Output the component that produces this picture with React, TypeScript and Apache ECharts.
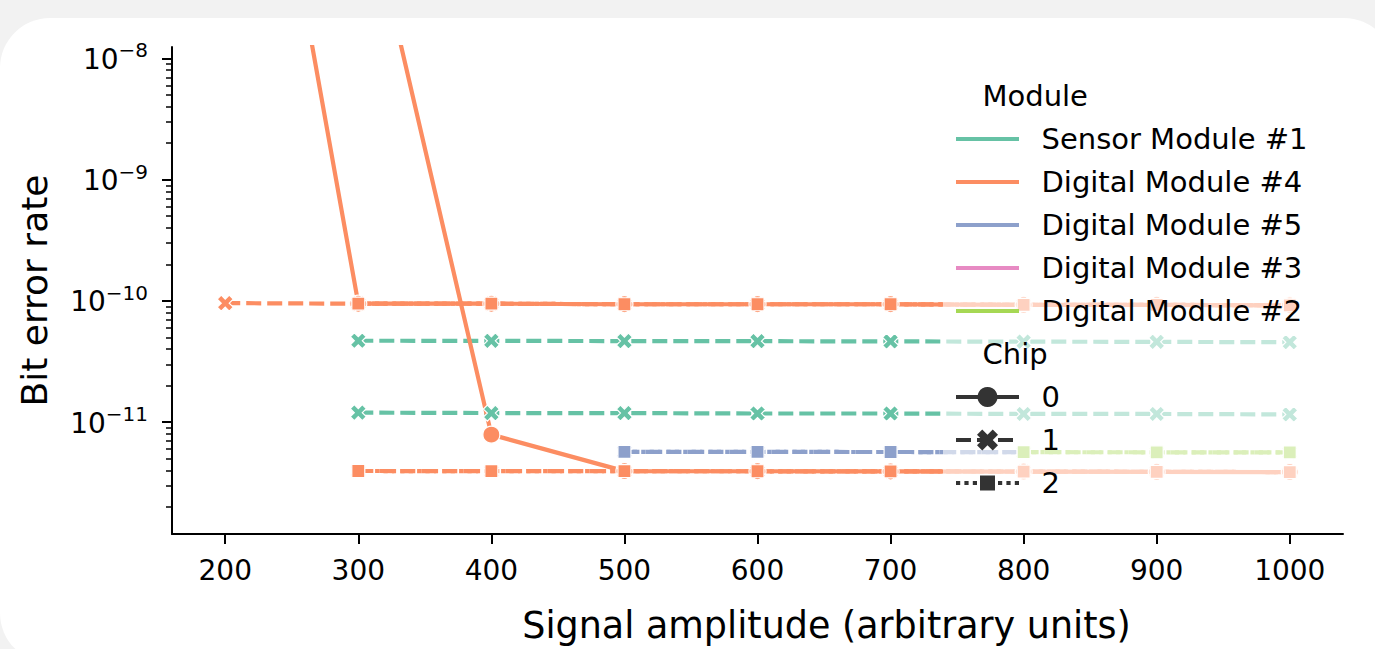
import React, { useEffect, useRef } from 'react';
import * as echarts from 'echarts';

const FONT = '"DejaVu Sans", "Liberation Sans", sans-serif';

// ---------- axis ticks ----------
const amplitudeTicks = [200, 300, 400, 500, 600, 700, 800, 900, 1000];
const decadeTicks = [1e-11, 1e-10, 1e-9, 1e-8];
const minorMultipliers = [2, 3, 4, 5, 6, 7, 8, 9];
const minorDecades = [1e-12, 1e-11, 1e-10, 1e-9, 1e-8];

// ---------- categories ----------
const moduleNames = ['Sensor Module #1', 'Digital Module #4', 'Digital Module #5', 'Digital Module #3', 'Digital Module #2'];
const moduleColors = ['#66c2a5', '#fc8d62', '#8da0cb', '#e78ac3', '#a6d854'];
const chipNames = ['0', '1', '2'];

// ---------- x values ----------
const xFrom200 = [200, 300, 400, 500, 600, 700, 800, 900, 1000];
const xFrom300 = [300, 400, 500, 600, 700, 800, 900, 1000];
const xFrom500 = [500, 600, 700, 800];
const xFrom800 = [800, 900, 1000];

// ---------- bit error rates ----------
const sensor1Chip1RunA = [4.70e-11, 4.69e-11, 4.67e-11, 4.66e-11, 4.64e-11, 4.62e-11, 4.60e-11, 4.57e-11];
const sensor1Chip1RunB = [1.20e-11, 1.19e-11, 1.19e-11, 1.18e-11, 1.18e-11, 1.17e-11, 1.17e-11, 1.16e-11];
const digital4Chip0RunA = [1.3e-4, 9.5e-11, 9.5e-11, 9.4e-11, 9.4e-11, 9.4e-11, 9.3e-11, 9.3e-11, 9.2e-11];
const digital4Chip0RunB = [4.2e-7, 7.9e-12, 3.95e-12, 3.94e-12, 3.93e-12, 3.92e-12, 3.90e-12, 3.88e-12];
const digital4Chip1RunA = [9.6e-11, 9.5e-11, 9.5e-11, 9.4e-11, 9.4e-11, 9.4e-11, 9.3e-11, 9.3e-11, 9.2e-11];
const digital4Chip1RunB = [3.96e-12, 3.95e-12, 3.95e-12, 3.94e-12, 3.93e-12, 3.92e-12, 3.90e-12, 3.88e-12];
const digital4Chip2RunA = [9.5e-11, 9.5e-11, 9.4e-11, 9.4e-11, 9.4e-11, 9.3e-11, 9.3e-11, 9.2e-11];
const digital4Chip2RunB = [3.96e-12, 3.95e-12, 3.95e-12, 3.94e-12, 3.93e-12, 3.92e-12, 3.90e-12, 3.88e-12];
const digital5Chip1 = [5.70e-12, 5.69e-12, 5.68e-12, 5.67e-12];
const digital5Chip2 = [5.70e-12, 5.69e-12, 5.68e-12, 5.67e-12];
const digital2Chip1 = [5.66e-12, 5.65e-12, 5.64e-12];
const digital2Chip2 = [5.66e-12, 5.65e-12, 5.64e-12];

type Line = { module: number; chip: number; x: number[]; y: number[] };
const lines: Line[] = [
  { module: 0, chip: 1, x: xFrom300, y: sensor1Chip1RunA },
  { module: 0, chip: 1, x: xFrom300, y: sensor1Chip1RunB },
  { module: 1, chip: 0, x: xFrom200, y: digital4Chip0RunA },
  { module: 1, chip: 0, x: xFrom300, y: digital4Chip0RunB },
  { module: 1, chip: 1, x: xFrom200, y: digital4Chip1RunA },
  { module: 1, chip: 1, x: xFrom300, y: digital4Chip1RunB },
  { module: 1, chip: 2, x: xFrom300, y: digital4Chip2RunA },
  { module: 1, chip: 2, x: xFrom300, y: digital4Chip2RunB },
  { module: 2, chip: 1, x: xFrom500, y: digital5Chip1 },
  { module: 2, chip: 2, x: xFrom500, y: digital5Chip2 },
  { module: 4, chip: 1, x: xFrom800, y: digital2Chip1 },
  { module: 4, chip: 2, x: xFrom800, y: digital2Chip2 },
];

const X_PATH = 'path://M75,0L100,25L75,50L100,75L75,100L50,75L25,100L0,75L25,50L0,25L25,0L50,25Z';
const X_POINTS = [[75, 0], [100, 25], [75, 50], [100, 75], [75, 100], [50, 75], [25, 100], [0, 75], [25, 50], [0, 25], [25, 0], [50, 25]];
const chipSymbol = ['circle', X_PATH, 'rect'];
const chipSymbolSize = [17, 16, 13];
const chipDash: any[] = ['solid', [15, 6], [4.2, 4.2]];

const LINE_W = 4.2;

function buildLegend(): any[] {
  const els: any[] = [];
  const hx1 = 956, hx2 = 1019, hc = (hx1 + hx2) / 2;
  const tx = 1041.5, titleX = 982.5;
  const step = 43, top = 96;
  const textStyle = (t: string, x: number, y: number) => ({
    type: 'text', x, y, z: 101,
    style: { text: t, fontSize: 29, fontFamily: FONT, fill: '#000', align: 'left', verticalAlign: 'middle' },
  });
  els.push({ type: 'rect', z: 100, shape: { x: 943, y: 68, width: 378, height: 442, r: 6 }, style: { fill: 'rgba(255,255,255,0.6)' } });
  els.push(textStyle('Module', titleX, top));
  moduleNames.forEach((m, i) => {
    const y = top + step * (i + 1);
    els.push({ type: 'line', z: 101, shape: { x1: hx1, y1: y, x2: hx2, y2: y }, style: { stroke: moduleColors[i], lineWidth: LINE_W } });
    els.push(textStyle(m, tx, y));
  });
  const chipTop = top + step * 6;
  els.push(textStyle('Chip', titleX, chipTop));
  const dark = '#333333';
  chipNames.forEach((c, i) => {
    const y = chipTop + step * (i + 1);
    const dash = chipDash[i] === 'solid' ? null : chipDash[i];
    els.push({ type: 'line', z: 101, shape: { x1: hx1, y1: y, x2: hx2, y2: y }, style: { stroke: dark, lineWidth: LINE_W, lineDash: dash } });
    if (i === 0) {
      els.push({ type: 'circle', z: 102, shape: { cx: hc, cy: y, r: 10 }, style: { fill: dark } });
    } else if (i === 1) {
      const s = 21;
      const pts = X_POINTS.map(([px, py]) => [hc - s / 2 + (px / 100) * s, y - s / 2 + (py / 100) * s]);
      els.push({ type: 'polygon', z: 102, shape: { points: pts }, style: { fill: dark } });
    } else {
      els.push({ type: 'rect', z: 102, shape: { x: hc - 7.5, y: y - 7.5, width: 15, height: 15 }, style: { fill: dark } });
    }
    els.push(textStyle(c, tx, y));
  });
  return els;
}

export default function App() {
  const ref = useRef<HTMLDivElement>(null);
  useEffect(() => {
    if (!ref.current) return;
    const chart = echarts.init(ref.current, undefined, { renderer: 'svg' });
    const minorTicks: number[] = [];
    minorDecades.forEach((d) => minorMultipliers.forEach((k) => minorTicks.push(k * d)));
    const yMin = 1.197e-12;
    const yMax = 1.244e-8;
    const axisBlack = { color: '#000', width: 2 };
    const option: any = {
      animation: false,
      backgroundColor: 'transparent',
      textStyle: { fontFamily: FONT },
      grid: { left: 172, top: 47, right: 32, bottom: 114, containLabel: false },
      xAxis: {
        type: 'value', min: 160, max: 1040,
        name: 'Signal amplitude (arbitrary units)', nameLocation: 'middle', nameGap: 73,
        nameTextStyle: { fontSize: 36.5, fontFamily: FONT, color: '#000', padding: [0, 0, 0, 138] },
        axisLine: { show: true, lineStyle: axisBlack },
        axisTick: { show: true, customValues: amplitudeTicks, length: 10, lineStyle: axisBlack },
        axisLabel: {
          customValues: amplitudeTicks, fontSize: 28, fontFamily: FONT, color: '#000', margin: 22,
          formatter: (v: number) => String(v),
        },
        splitLine: { show: false },
      },
      yAxis: [
        {
          type: 'log', min: yMin, max: yMax,
          name: 'Bit error rate', nameLocation: 'middle', nameGap: 120,
          nameTextStyle: { fontSize: 36, fontFamily: FONT, color: '#000' },
          axisLine: { show: true, lineStyle: axisBlack },
          axisTick: { show: true, customValues: decadeTicks, length: 10, lineStyle: axisBlack },
          axisLabel: {
            customValues: decadeTicks, margin: 24,
            formatter: (v: number) => `{base|10}{exp|\u2212${Math.abs(Math.round(Math.log10(v)))}}`,
            rich: {
              base: { fontSize: 28, fontFamily: FONT, color: '#000', lineHeight: 30, verticalAlign: 'bottom' },
              exp: { fontSize: 20, fontFamily: FONT, color: '#000', lineHeight: 20, padding: [0, 0, 13, 0], verticalAlign: 'bottom' },
            },
          },
          splitLine: { show: false },
          minorTick: { show: false },
        },
        {
          type: 'log', min: yMin, max: yMax, position: 'left',
          axisLine: { show: false },
          axisTick: { show: true, customValues: minorTicks, length: 6, lineStyle: { color: '#000', width: 1.5 } },
          axisLabel: { show: false },
          splitLine: { show: false },
        },
      ],
      series: lines.map((l) => ({
        type: 'line',
        name: `${moduleNames[l.module]} / Chip ${chipNames[l.chip]}`,
        yAxisIndex: 0,
        data: l.x.map((x, i) => [x, l.y[i]]),
        symbol: chipSymbol[l.chip],
        symbolSize: chipSymbolSize[l.chip],
        showSymbol: true,
        showAllSymbol: true,
        clip: true,
        lineStyle: { color: moduleColors[l.module], width: LINE_W, type: chipDash[l.chip], cap: 'butt' },
        itemStyle: { color: moduleColors[l.module], borderColor: '#ffffff', borderWidth: 1.2 },
        emphasis: { disabled: true },
      })),
      graphic: buildLegend(),
    };
    chart.setOption(option);
    return () => chart.dispose();
  }, []);

  return (
    <div style={{ position: 'fixed', left: 0, top: 0, width: 1375, height: 649, background: '#f2f2f2', overflow: 'hidden' }}>
      <div style={{ position: 'absolute', left: 0, top: 18, width: 1394, height: 645, borderRadius: 50, background: '#ffffff' }} />
      <div ref={ref} style={{ position: 'absolute', left: 0, top: 0, width: 1375, height: 649 }} />
    </div>
  );
}
